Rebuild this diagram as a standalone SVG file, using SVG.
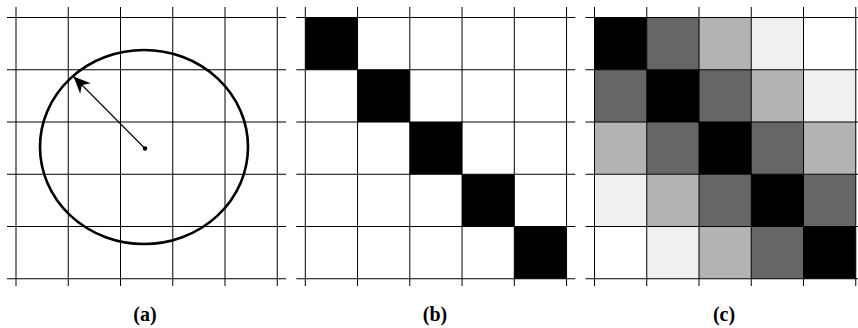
<svg xmlns="http://www.w3.org/2000/svg" width="858" height="328" viewBox="0 0 858 328">
<style>
.grid line{stroke:#000;stroke-width:1}
.lbl{font-family:"Liberation Serif","DejaVu Serif",serif;font-weight:bold;font-size:20px;text-anchor:middle;fill:#000}
.k{fill:#000}.d{fill:#666}.m{fill:#b3b3b3}.l{fill:#f0f0f0}
</style>
<defs>
<marker id="ah" markerUnits="userSpaceOnUse" markerWidth="20" markerHeight="20" viewBox="-18 -9 20 18" refX="0" refY="0" orient="auto">
<path d="M0,0 L-17,-7.5 L-12,0 L-17,7.5 Z" fill="#000"/>
</marker>
<g id="gridlines" class="grid">
<line x1="0" y1="7" x2="0" y2="286"/>
<line x1="52.25" y1="7" x2="52.25" y2="286"/>
<line x1="104.5" y1="7" x2="104.5" y2="286"/>
<line x1="156.75" y1="7" x2="156.75" y2="286"/>
<line x1="209" y1="7" x2="209" y2="286"/>
<line x1="261.25" y1="7" x2="261.25" y2="286"/>
<line x1="-9" y1="17.5" x2="270" y2="17.5"/>
<line x1="-9" y1="69.75" x2="270" y2="69.75"/>
<line x1="-9" y1="122" x2="270" y2="122"/>
<line x1="-9" y1="174.25" x2="270" y2="174.25"/>
<line x1="-9" y1="226.5" x2="270" y2="226.5"/>
<line x1="-9" y1="278.75" x2="270" y2="278.75"/>
</g>
</defs>
<rect width="858" height="328" fill="#fff"/>

<g id="panel-a" transform="translate(16,0)">
<use href="#gridlines"/>
<ellipse cx="128" cy="147" rx="104" ry="97" fill="none" stroke="#000" stroke-width="2.6"/>
<circle cx="129" cy="148.5" r="2.2" fill="#000"/>
</g>
<g id="connectors">
<line x1="145" y1="148.5" x2="73.5" y2="76.5" stroke="#000" stroke-width="1.1" marker-end="url(#ah)"/>
</g>
<text class="lbl" x="145" y="321">(a)</text>

<g id="panel-b" transform="translate(305.3,0)">
<rect class="k" x="0" y="17.5" width="52.25" height="52.25"/>
<rect class="k" x="52.25" y="69.75" width="52.25" height="52.25"/>
<rect class="k" x="104.5" y="122" width="52.25" height="52.25"/>
<rect class="k" x="156.75" y="174.25" width="52.25" height="52.25"/>
<rect class="k" x="209" y="226.5" width="52.25" height="52.25"/>
<use href="#gridlines"/>
</g>
<text class="lbl" x="435" y="321">(b)</text>

<g id="panel-c" transform="translate(594.5,0)">
<rect class="k" x="0" y="17.5" width="52.25" height="52.25"/>
<rect class="d" x="52.25" y="17.5" width="52.25" height="52.25"/>
<rect class="m" x="104.5" y="17.5" width="52.25" height="52.25"/>
<rect class="l" x="156.75" y="17.5" width="52.25" height="52.25"/>

<rect class="d" x="0" y="69.75" width="52.25" height="52.25"/>
<rect class="k" x="52.25" y="69.75" width="52.25" height="52.25"/>
<rect class="d" x="104.5" y="69.75" width="52.25" height="52.25"/>
<rect class="m" x="156.75" y="69.75" width="52.25" height="52.25"/>
<rect class="l" x="209" y="69.75" width="52.25" height="52.25"/>

<rect class="m" x="0" y="122" width="52.25" height="52.25"/>
<rect class="d" x="52.25" y="122" width="52.25" height="52.25"/>
<rect class="k" x="104.5" y="122" width="52.25" height="52.25"/>
<rect class="d" x="156.75" y="122" width="52.25" height="52.25"/>
<rect class="m" x="209" y="122" width="52.25" height="52.25"/>

<rect class="l" x="0" y="174.25" width="52.25" height="52.25"/>
<rect class="m" x="52.25" y="174.25" width="52.25" height="52.25"/>
<rect class="d" x="104.5" y="174.25" width="52.25" height="52.25"/>
<rect class="k" x="156.75" y="174.25" width="52.25" height="52.25"/>
<rect class="d" x="209" y="174.25" width="52.25" height="52.25"/>

<rect class="l" x="52.25" y="226.5" width="52.25" height="52.25"/>
<rect class="m" x="104.5" y="226.5" width="52.25" height="52.25"/>
<rect class="d" x="156.75" y="226.5" width="52.25" height="52.25"/>
<rect class="k" x="209" y="226.5" width="52.25" height="52.25"/>
<use href="#gridlines"/>
</g>
<text class="lbl" x="724" y="321">(c)</text>
</svg>
